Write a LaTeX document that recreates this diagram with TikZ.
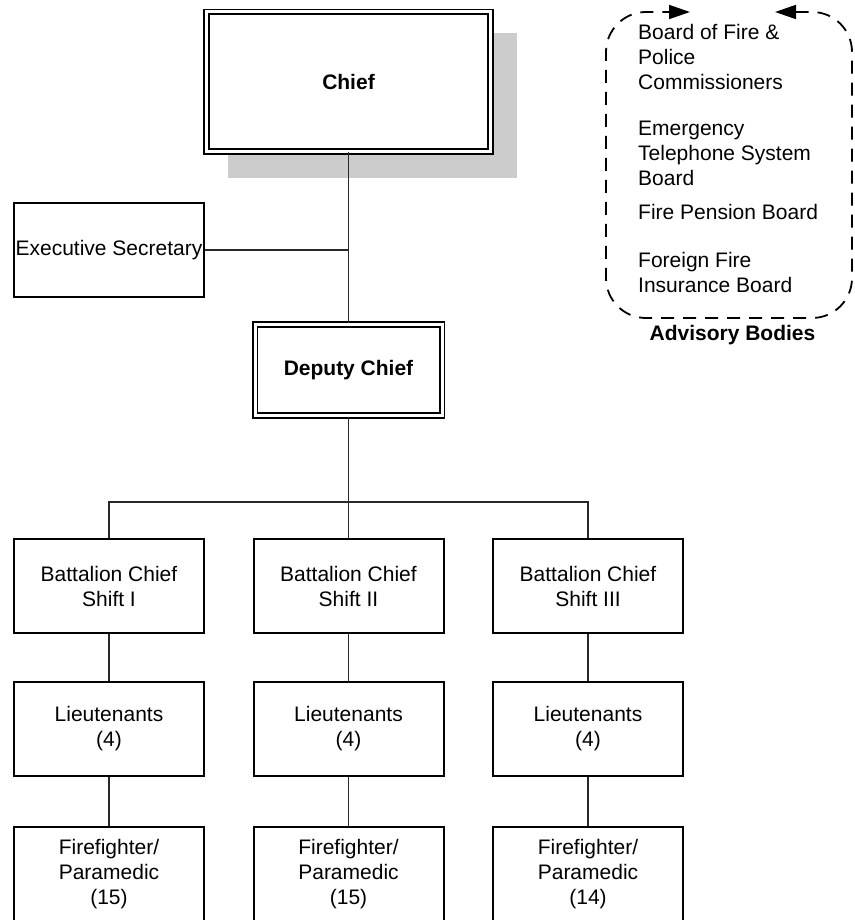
\documentclass[tikz,border=0pt]{standalone}
\usepackage{fontspec}
\setmainfont{Liberation Sans}
\usetikzlibrary{shapes,arrows.meta,positioning,calc}
\definecolor{ShadowGray}{RGB}{204, 204, 204}
\definecolor{LinkGray}{RGB}{40, 40, 40}

\begin{document}
\begin{tikzpicture}[x=1pt, y=-1pt,
    every node/.style={font=\fontsize{21}{25}\selectfont, inner sep=0pt},
    post/.style={draw, line width=2pt, fill=white, align=center,
      minimum width=190pt, minimum height=94pt},
    headpost/.style={draw, line width=1.8pt, double, double distance=3pt,
      fill=white, align=center, font=\fontsize{21}{25}\selectfont\bfseries},
    link/.style={draw=LinkGray, line width=1.2pt},
    frame/.style={line width=1.8pt, dash pattern=on 13pt off 9pt,
      rounded corners=40pt,
      {Triangle[length=21pt,width=14pt]}-{Triangle[length=21pt,width=14pt]}},
    board/.style={anchor=west, align=left}]
  \useasboundingbox (0,0) rectangle (854,920);

  % Shadow of the chief box
  \fill[ShadowGray] (228,33) rectangle (517,178);

  % Chief and deputy
  \node[headpost, minimum width=284pt, minimum height=139.5pt]
    (chief) at (348.5,81.75) {Chief};
  \node[headpost, minimum width=187pt, minimum height=91.5pt]
    (deputy) at (348.5,370) {Deputy Chief};
  \node[post] (secretary) at (109,250) {Executive Secretary};

  % Battalion chiefs
  \node[post] (bc1) at (109,586) {Battalion Chief\\Shift I};
  \node[post] (bc2) at (348.5,586) {Battalion Chief\\Shift II};
  \node[post] (bc3) at (588,586) {Battalion Chief\\Shift III};

  % Lieutenants
  \node[post] (lt1) at (109,729) {Lieutenants\\(4)};
  \node[post] (lt2) at (348.5,729) {Lieutenants\\(4)};
  \node[post] (lt3) at (588,729) {Lieutenants\\(4)};

  % Firefighters
  \node[post] (ff1) at (109,874) {Firefighter/\\Paramedic\\(15)};
  \node[post] (ff2) at (348.5,874) {Firefighter/\\Paramedic\\(15)};
  \node[post] (ff3) at (588,874) {Firefighter/\\Paramedic\\(14)};

  % Links
  \coordinate (bus) at (348.5,502);
  \draw[link] (chief.south) -- (deputy.north);
  \draw[link] (secretary.east) -- (secretary.east -| chief.south);
  \draw[link] (deputy.south) -- (bus) -- (bc2.north);
  \draw[link] (bc1.north) |- (bus) -| (bc3.north);
  \foreach \i in {1,2,3} {
    \draw[link] (bc\i.south) -- (lt\i.north);
    \draw[link] (lt\i.south) -- (ff\i.north);
  }

  % Advisory bodies
  \node[board] (fpc) at (638,57) {Board of Fire \&\\Police\\Commissioners};
  \node[board] (ets) at (638,153) {Emergency\\Telephone System\\Board};
  \node[board] (pension) at (638,212) {Fire Pension Board};
  \node[board] (foreign) at (638,272) {Foreign Fire\\Insurance Board};
  \node[font=\fontsize{21}{25}\selectfont\bfseries] (advisory) at (732.5,335)
    {Advisory Bodies};
  \coordinate (gapL) at (690,12);
  \coordinate (gapR) at (775,12);
  \draw[frame] (gapR) -- (852,12) -- (852,318) -- (606,318) -- (606,12) -- (gapL);
\end{tikzpicture}
\end{document}
